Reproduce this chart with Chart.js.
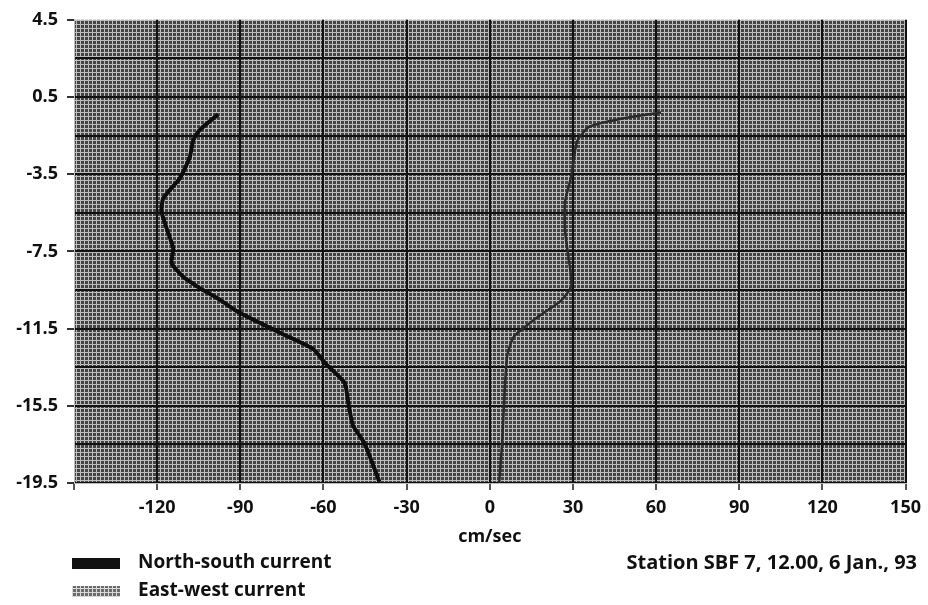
<!DOCTYPE html>
<html>
<head>
<meta charset="utf-8">
<script src="https://cdn.jsdelivr.net/npm/chart.js@4/dist/chart.umd.min.js"></script>
<style>
  html, body { margin: 0; padding: 0; background: #fff; }
</style>
</head>
<body>
<canvas id="grafica" width="928" height="605"></canvas>
<script>
// Datos (velocidad en cm/sec, profundidad)
const nsSpeed = [-98.0, -104.6, -107.0, -108.2, -111.8, -117.8, -118.4, -116.6, -114.2, -114.8,
                 -110.7, -104.6, -98.5, -91.3, -83.0, -75.2, -63.8, -59.0, -52.4, -51.2, -49.4, -45.2, -39.8];
const nsDepth = [-0.4, -1.2, -1.75, -2.6, -3.7, -4.75, -5.45, -6.3, -7.35, -8.1,
                 -8.8, -9.4, -9.9, -10.6, -11.2, -11.75, -12.55, -13.35, -14.3, -15.2, -16.5, -17.45, -19.45];

const ewSpeed = [61.8, 46.6, 35.8, 31.5, 29.4, 27.2, 27.2, 28.6, 29.4, 25.7, 17.8, 8.8, 6.3, 5.2, 4.5, 3.4];
const ewDepth = [-0.3, -0.65, -1.05, -1.8, -3.6, -4.9, -6.5, -8.0, -9.3, -10.05, -10.85, -11.9, -12.9, -15.2, -17.3, -19.5];

const seriesLabels = ['North-south current', 'East-west current'];
const xTitle = 'cm/sec';
const stationNote = 'Station SBF 7, 12.00, 6 Jan., 93';

const FONT = "'Open Sans', 'DejaVu Sans', sans-serif";

function puntos(xs, ys) {
    return xs.map((x, i) => ({ x: x, y: ys[i] }));
}

// trama gris tipo fotocopia
function patron(ctx, claro) {
    const c = document.createElement('canvas');
    c.width = 4; c.height = 4;
    const p = c.getContext('2d');
    p.fillStyle = claro ? '#6a6a6a' : '#444';
    p.fillRect(0, 0, 4, 4);
    p.fillStyle = claro ? '#d8d8d8' : '#bdbdbd';
    p.fillRect(0, 0, 4, 1);
    p.fillRect(0, 0, 1, 4);
    return ctx.createPattern(c, 'repeat');
}

function esEtiquetaY(v) {
    const k = (4.5 - v) / 4;
    return Math.abs(k - Math.round(k)) < 1e-6;
}

const fondo = {
    id: 'fondo',
    beforeDraw(chart) {
        const { ctx, chartArea: a } = chart;
        ctx.save();
        ctx.fillStyle = patron(ctx, false);
        ctx.fillRect(a.left, a.top, a.right - a.left, a.bottom - a.top);
        ctx.restore();
    },
    afterDraw(chart) {
        const ctx = chart.ctx;
        ctx.save();
        ctx.font = 'bold 19px ' + FONT;
        ctx.textBaseline = 'middle';
        chart.data.datasets.forEach((ds, i) => {
            const y = 563 + i * 28;
            ctx.fillStyle = i === 0 ? '#111' : patron(ctx, true);
            ctx.fillRect(72, y - 5, 48, 11);
            ctx.fillStyle = '#111';
            ctx.textAlign = 'left';
            ctx.fillText(ds.label, 138, y);
        });
        ctx.font = 'bold 20px ' + FONT;
        ctx.textAlign = 'right';
        ctx.fillText(stationNote, 917, 563);
        ctx.restore();
    }
};

const ctx = document.getElementById('grafica').getContext('2d');

let chart = new Chart(ctx, {
    type: 'scatter',
    data: {
        datasets: [{
            label: seriesLabels[0],
            data: puntos(nsSpeed, nsDepth),
            showLine: true,
            borderColor: '#0d0d0d',
            borderWidth: 4,
            pointRadius: 0,
            tension: 0.2
        }, {
            label: seriesLabels[1],
            data: puntos(ewSpeed, ewDepth),
            showLine: true,
            borderColor: '#2a2a2a',
            borderWidth: 2.5,
            pointRadius: 0,
            tension: 0.2
        }]
    },
    options: {
        responsive: false,
        animation: false,
        layout: { padding: { top: 17, right: 21, bottom: 52, left: 0 } },
        plugins: {
            legend: { display: false },
            tooltip: { enabled: false }
        },
        scales: {
            x: {
                type: 'linear',
                min: -150,
                max: 150,
                ticks: {
                    stepSize: 30,
                    color: '#111',
                    font: { family: FONT, size: 18, weight: 'bold' },
                    padding: 7,
                    maxRotation: 0,
                    autoSkip: false,
                    callback: v => v === -150 ? '' : v
                },
                grid: {
                    color: c => c.tick && c.tick.value === -150 ? 'rgba(0,0,0,0)' : '#111',
                    lineWidth: 2,
                    tickLength: 7,
                    tickColor: '#555'
                },
                border: { display: true, color: '#bdbdbd', width: 1 },
                title: {
                    display: true,
                    text: xTitle,
                    color: '#111',
                    font: { family: FONT, size: 18, weight: 'bold' },
                    padding: { top: 0, bottom: 5 }
                },
                afterFit: s => { s.height = 70; }
            },
            y: {
                type: 'linear',
                min: -19.5,
                max: 4.5,
                ticks: {
                    stepSize: 2,
                    color: '#111',
                    font: { family: FONT, size: 18, weight: 'bold' },
                    padding: 9,
                    autoSkip: false,
                    callback: v => esEtiquetaY(v) ? v.toFixed(1) : ''
                },
                grid: {
                    color: c => c.tick && c.tick.value === 4.5 ? 'rgba(0,0,0,0)' : '#111',
                    lineWidth: 2,
                    tickLength: 7,
                    tickColor: c => c.tick && esEtiquetaY(c.tick.value) ? '#333' : 'rgba(0,0,0,0)'
                },
                border: { display: true, color: '#bdbdbd', width: 1 },
                afterFit: s => { s.width = 74; }
            }
        }
    },
    plugins: [fondo]
});
</script>
</body>
</html>
